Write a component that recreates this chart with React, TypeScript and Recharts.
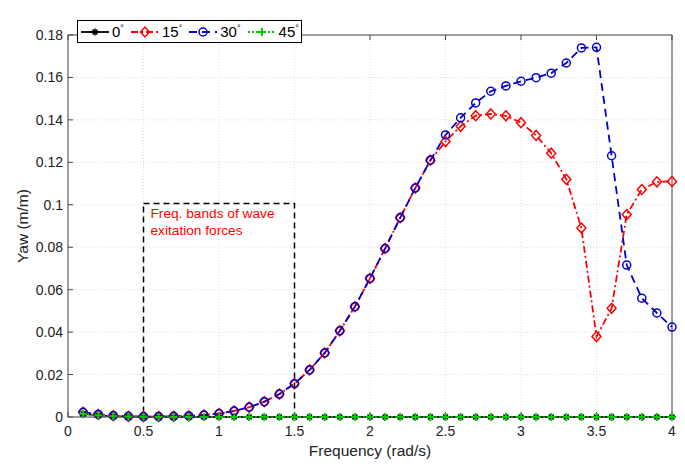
import {
  LineChart,
  Line,
  XAxis,
  YAxis,
  CartesianGrid,
  ReferenceArea,
  Legend
} from "recharts"

const freq = [
  0.1, 0.2, 0.3, 0.4, 0.5, 0.6, 0.7, 0.8, 0.9, 1.0,
  1.1, 1.2, 1.3, 1.4, 1.5, 1.6, 1.7, 1.8, 1.9, 2.0,
  2.1, 2.2, 2.3, 2.4, 2.5, 2.6, 2.7, 2.8, 2.9, 3.0,
  3.1, 3.2, 3.3, 3.4, 3.5, 3.6, 3.7, 3.8, 3.9, 4.0
]

const yaw0 = [
  0.0015, 0.0008, 0.0004, 0.0002, 0.0001, 0, 0, 0, 0, 0,
  0, 0, 0, 0, 0, 0, 0, 0, 0, 0,
  0, 0, 0, 0, 0, 0, 0, 0, 0, 0,
  0, 0, 0, 0, 0, 0, 0, 0, 0, 0
]

const yaw15 = [
  0.0022, 0.0012, 0.0006, 0.0003, 0.0002, 0.0002, 0.0003, 0.0005, 0.0009, 0.0016,
  0.0028, 0.0046, 0.0072, 0.0108, 0.0157, 0.0222, 0.0302, 0.0406, 0.052, 0.0653,
  0.0794, 0.0939, 0.1079, 0.121, 0.1298, 0.137, 0.142, 0.1428, 0.1419, 0.1387,
  0.1327, 0.1243, 0.112, 0.089, 0.0379, 0.0512, 0.0954, 0.1072, 0.1108, 0.111
]

const yaw30 = [
  0.0022, 0.0012, 0.0006, 0.0003, 0.0002, 0.0002, 0.0003, 0.0005, 0.0009, 0.0016,
  0.0028, 0.0046, 0.0072, 0.0108, 0.0157, 0.0222, 0.0302, 0.0406, 0.052, 0.0653,
  0.0794, 0.0939, 0.1079, 0.121, 0.1329, 0.141, 0.148, 0.1535, 0.156, 0.1582,
  0.1599, 0.162, 0.1668, 0.1739, 0.1742, 0.1231, 0.0716, 0.056, 0.049, 0.0424
]

const yaw45 = [
  0.0015, 0.0008, 0.0004, 0.0002, 0.0001, 0, 0, 0, 0, 0,
  0, 0, 0, 0, 0, 0, 0, 0, 0, 0,
  0, 0, 0, 0, 0, 0, 0, 0, 0, 0,
  0, 0, 0, 0, 0, 0, 0, 0, 0, 0
]

const xTicks = [0, 0.5, 1, 1.5, 2, 2.5, 3, 3.5, 4]
const yTicks = [0, 0.02, 0.04, 0.06, 0.08, 0.1, 0.12, 0.14, 0.16, 0.18]

const bandNote = ["Freq. bands of wave", "exitation forces"]

const data = freq.map((f, i) => ({
  f,
  a0: yaw0[i],
  a15: yaw15[i],
  a30: yaw30[i],
  a45: yaw45[i]
}))

const FONT = "'Liberation Sans', Arial, sans-serif"

function Star({ cx, cy, color }: any) {
  return (
    <g stroke={color} strokeWidth={1.5}>
      <line x1={cx - 3.5} y1={cy} x2={cx + 3.5} y2={cy} />
      <line x1={cx} y1={cy - 3.5} x2={cx} y2={cy + 3.5} />
      <line x1={cx - 2.5} y1={cy - 2.5} x2={cx + 2.5} y2={cy + 2.5} />
      <line x1={cx - 2.5} y1={cy + 2.5} x2={cx + 2.5} y2={cy - 2.5} />
    </g>
  )
}

function Diamond({ cx, cy, color }: any) {
  return (
    <path
      d={`M${cx},${cy - 5}L${cx + 4.5},${cy}L${cx},${cy + 5}L${cx - 4.5},${cy}Z`}
      fill="none"
      stroke={color}
      strokeWidth={1.5}
    />
  )
}

function Ring({ cx, cy, color }: any) {
  return <circle cx={cx} cy={cy} r={4} fill="none" stroke={color} strokeWidth={1.5} />
}

function Plus({ cx, cy, color }: any) {
  return (
    <g stroke={color} strokeWidth={2}>
      <line x1={cx - 4} y1={cy} x2={cx + 4} y2={cy} />
      <line x1={cx} y1={cy - 4} x2={cx} y2={cy + 4} />
    </g>
  )
}

const series = [
  { key: "a0", name: "0", color: "#000000", dash: undefined, Marker: Star },
  { key: "a15", name: "15", color: "#ff0000", dash: "7 3 2 3", Marker: Diamond },
  { key: "a30", name: "30", color: "#0000cc", dash: "8 5", Marker: Ring },
  { key: "a45", name: "45", color: "#00cc00", dash: "2 2", Marker: Plus }
]

function LegendBox() {
  return (
    <div
      style={{
        display: "flex",
        alignItems: "center",
        border: "1px solid #000",
        background: "#fff",
        height: 21,
        padding: "0 2px 0 2px",
        fontFamily: FONT,
        fontSize: 15,
        color: "#000"
      }}
    >
      {series.map((s, i) => (
        <div
          key={s.key}
          style={{ display: "flex", alignItems: "center", marginRight: i === series.length - 1 ? 0 : 6 }}
        >
          <svg width={30} height={14}>
            <line
              x1={1}
              y1={7}
              x2={29}
              y2={7}
              stroke={s.color}
              strokeWidth={1.8}
              strokeDasharray={s.dash}
            />
            <s.Marker cx={15} cy={7} color={s.color} />
          </svg>
          <span style={{ marginLeft: 2 }}>
            {s.name}
            <sup style={{ fontSize: 9 }}>°</sup>
          </span>
        </div>
      ))}
    </div>
  )
}

function NoteLabel({ viewBox }: any) {
  const { x, y } = viewBox
  return (
    <text x={x + 7} y={y + 14} fill="#ff0000" fontSize={13.7} fontFamily={FONT}>
      {bandNote.map((t, i) => (
        <tspan key={i} x={x + 7} dy={i === 0 ? 0 : 17}>
          {t}
        </tspan>
      ))}
    </text>
  )
}

export default function App() {
  return (
    <div style={{ position: "absolute", left: 0, top: 0, background: "#fff" }}>
      <LineChart
        width={685}
        height={466}
        data={data}
        margin={{ top: 11, right: 12, bottom: 0, left: 0 }}
        style={{ fontFamily: FONT }}
      >
        <CartesianGrid stroke="#dcdcdc" strokeDasharray="1 2" />
        <XAxis
          dataKey="f"
          type="number"
          domain={[0, 4]}
          ticks={xTicks}
          height={49}
          stroke="#444"
          tickSize={-5}
          tickMargin={14}
          tick={{ fill: "#222", fontSize: 14 }}
          label={({ viewBox }: any) => (
            <text
              x={viewBox.x + viewBox.width / 2}
              y={viewBox.y + 39}
              textAnchor="middle"
              fill="#222"
              fontSize={15.5}
              fontFamily={FONT}
            >
              Frequency (rad/s)
            </text>
          )}
        />
        <XAxis
          xAxisId="top"
          dataKey="f"
          type="number"
          orientation="top"
          domain={[0, 4]}
          ticks={xTicks}
          height={1}
          stroke="#444"
          tickSize={-5}
          tickFormatter={() => ""}
        />
        <YAxis
          type="number"
          domain={[0, 0.18]}
          ticks={yTicks}
          width={68}
          stroke="#444"
          tickSize={-5}
          tickMargin={10}
          tick={{ fill: "#222", fontSize: 14 }}
          label={({ viewBox }: any) => {
            const cx = viewBox.x + 22
            const cy = viewBox.y + viewBox.height / 2
            return (
              <text
                x={cx}
                y={cy}
                transform={`rotate(-90 ${cx} ${cy})`}
                textAnchor="middle"
                dominantBaseline="central"
                fill="#222"
                fontSize={15.5}
                fontFamily={FONT}
              >
                Yaw (m/m)
              </text>
            )
          }}
        />
        <YAxis
          yAxisId="right"
          orientation="right"
          type="number"
          domain={[0, 0.18]}
          ticks={yTicks}
          width={1}
          stroke="#444"
          tickSize={-5}
          tickFormatter={() => ""}
        />
        <ReferenceArea
          x1={0.5}
          x2={1.5}
          y1={0}
          y2={0.1006}
          fill="none"
          stroke="#000"
          strokeWidth={1.5}
          strokeDasharray="6 4"
          ifOverflow="visible"
          label={<NoteLabel />}
        />
        {series.map((s) => (
          <Line
            key={s.key}
            dataKey={s.key}
            name={s.name}
            type="linear"
            stroke={s.color}
            strokeWidth={1.8}
            strokeDasharray={s.dash}
            isAnimationActive={false}
            dot={(p: any) => <s.Marker key={`${s.key}-${p.index}`} cx={p.cx} cy={p.cy} color={s.color} />}
            activeDot={false}
          />
        ))}
        <Legend
          layout="horizontal"
          verticalAlign="top"
          align="left"
          content={() => <LegendBox />}
          wrapperStyle={{ top: 20, left: 77, width: "auto" }}
        />
      </LineChart>
    </div>
  )
}
